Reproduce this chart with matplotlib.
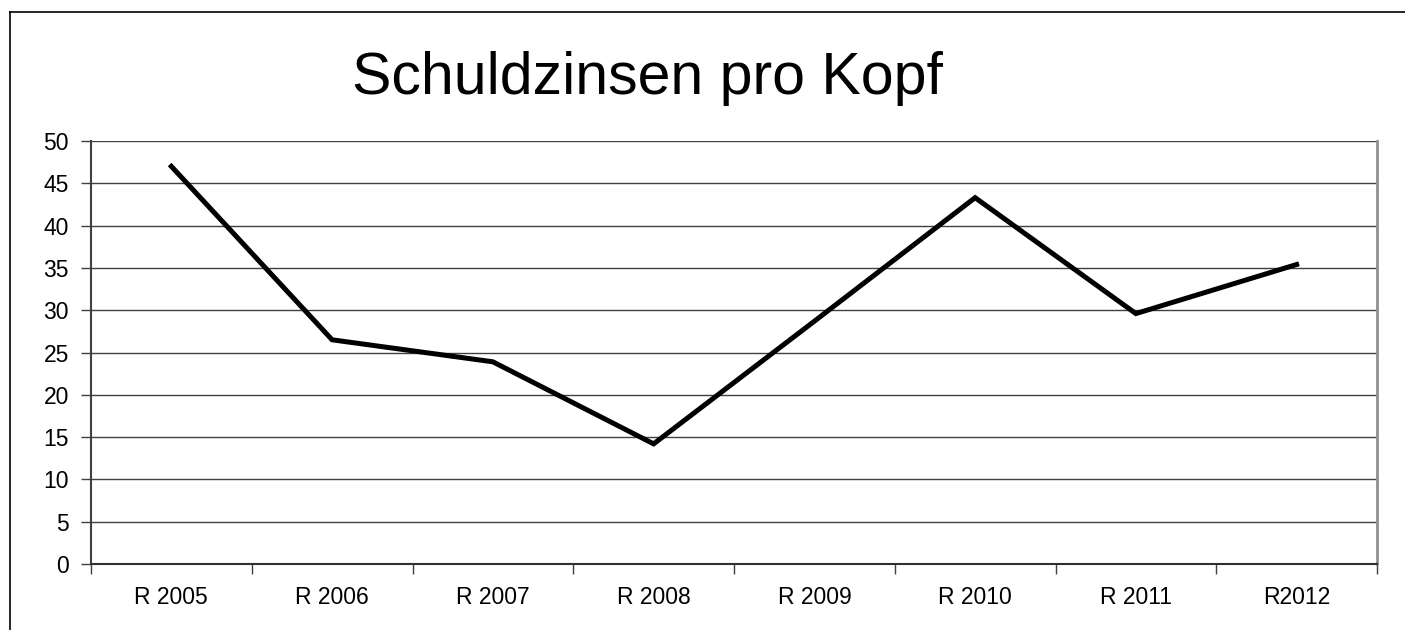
import numpy as np
import matplotlib.pyplot as plt
from matplotlib.lines import Line2D

plt.rcParams['font.family'] = ['Liberation Sans', 'DejaVu Sans']

jahre = ['R 2005', 'R 2006', 'R 2007', 'R 2008', 'R 2009', 'R 2010', 'R 2011', 'R2012']
zinsen = [47.0, 26.5, 23.9, 14.2, 28.7, 43.3, 29.6, 35.4]

fig = plt.figure(figsize=(14.05, 6.3), dpi=100)
W, H = 1405, 630
ax = fig.add_axes([91 / W, (H - 564) / H, (1377 - 91) / W, (564 - 141) / H])

x = np.arange(len(jahre))
ax.plot(x, zinsen, color='black', linewidth=3.6, solid_joinstyle='miter', zorder=3)

ax.set_xlim(-0.5, len(jahre) - 0.5)
ax.set_ylim(0, 50)
ax.set_yticks(np.arange(0, 51, 5))
ax.yaxis.grid(True, color='#404040', linewidth=1.0)
ax.set_axisbelow(True)

# ticks between categories, labels at centres
ax.set_xticks(np.arange(-0.5, len(jahre), 1.0))
ax.set_xticklabels([])
ax.set_xticks(x, minor=True)
ax.set_xticklabels(jahre, minor=True)
ax.tick_params(axis='x', which='major', direction='out', length=7, width=1, color='#404040')
ax.tick_params(axis='x', which='minor', length=0, pad=16, labelsize=16.5)
ax.tick_params(axis='y', direction='out', length=7, width=1, color='#404040', labelsize=16.5, pad=9)

ax.spines['top'].set_visible(False)
ax.spines['left'].set_color('#404040')
ax.spines['bottom'].set_color('#303030')
ax.spines['right'].set_color('#909090')
ax.spines['right'].set_linewidth(2)
for s in ['left', 'bottom']:
    ax.spines[s].set_linewidth(1.5)

fig.text(647 / W, 1 - 78 / H, 'Schuldzinsen pro Kopf', ha='center', va='center', fontsize=42.5)

# outer frame of the chart object
fig.add_artist(Line2D([10 / W, 10 / W], [0, 1 - 12 / H], color='black', linewidth=1.2, transform=fig.transFigure))
fig.add_artist(Line2D([10 / W, 1], [1 - 12 / H, 1 - 12 / H], color='black', linewidth=1.2, transform=fig.transFigure))

fig.savefig('out.png', dpi=100)
